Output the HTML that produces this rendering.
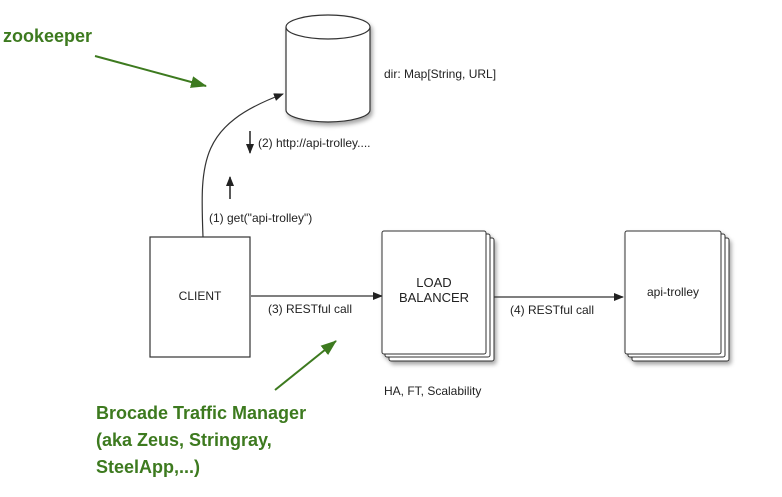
<!DOCTYPE html>
<html><head><style>
body{margin:0;background:#fff;width:782px;height:492px;overflow:hidden}
svg text{font-family:"Liberation Sans",sans-serif}
</style></head><body>
<svg width="782" height="492" viewBox="0 0 782 492" xmlns="http://www.w3.org/2000/svg">
<defs>
<marker id="a" markerWidth="10" markerHeight="8" refX="9" refY="4" orient="auto" markerUnits="userSpaceOnUse"><path d="M0,0L10,4L0,8z" fill="#222"/></marker>
<marker id="g" markerWidth="16" markerHeight="12" refX="15" refY="6" orient="auto" markerUnits="userSpaceOnUse"><path d="M0,0L16,6L0,12z" fill="#3d7a1f"/></marker>
<filter id="s" x="-10%" y="-10%" width="130%" height="130%"><feDropShadow dx="2" dy="3" stdDeviation="2" flood-opacity="0.35"/></filter>
</defs>
<g filter="url(#s)">
<path d="M286,27 L286,110 A42,12 0 0 0 370,110 L370,27" fill="#fff" stroke="#333" stroke-width="1.2"/>
<ellipse cx="328" cy="27" rx="42" ry="12" fill="#fff" stroke="#333" stroke-width="1.2"/>
</g>
<text x="384" y="78" font-size="12" fill="#222">dir: Map[String, URL]</text>
<path d="M203,237 C200,160 200,125 283,94" fill="none" stroke="#333" stroke-width="1.2" marker-end="url(#a)"/>
<line x1="250" y1="131" x2="250" y2="153" stroke="#222" stroke-width="1.5" marker-end="url(#a)"/>
<text x="258" y="147" font-size="12" fill="#222">(2) http://api-trolley....</text>
<line x1="230" y1="199" x2="230" y2="177" stroke="#222" stroke-width="1.5" marker-end="url(#a)"/>
<text x="209" y="222" font-size="12" fill="#222">(1) get("api-trolley")</text>
<rect x="150" y="237" width="100" height="120" fill="#fff" stroke="#333" stroke-width="1.2"/>
<text x="200" y="300" font-size="12" text-anchor="middle" fill="#222">CLIENT</text>
<line x1="251" y1="296" x2="382" y2="296" stroke="#333" stroke-width="1.2" marker-end="url(#a)"/>
<text x="268" y="313" font-size="12" fill="#222">(3) RESTful call</text>
<g filter="url(#s)">
<rect x="389" y="238" width="105" height="123" rx="2" fill="#fff" stroke="#333"/>
<rect x="385" y="234" width="105" height="123" rx="2" fill="#fff" stroke="#333"/>
<rect x="382" y="231" width="104" height="123" rx="2" fill="#fff" stroke="#333"/>
</g>
<text x="434" y="287" font-size="13" text-anchor="middle" fill="#222">LOAD</text>
<text x="434" y="302" font-size="13" text-anchor="middle" fill="#222">BALANCER</text>
<text x="384" y="395" font-size="12" fill="#222">HA, FT, Scalability</text>
<line x1="494" y1="297" x2="623" y2="297" stroke="#333" stroke-width="1.2" marker-end="url(#a)"/>
<text x="510" y="314" font-size="12" fill="#222">(4) RESTful call</text>
<g filter="url(#s)">
<rect x="632" y="238" width="97" height="123" rx="2" fill="#fff" stroke="#333"/>
<rect x="628" y="234" width="97" height="123" rx="2" fill="#fff" stroke="#333"/>
<rect x="625" y="231" width="96" height="123" rx="2" fill="#fff" stroke="#333"/>
</g>
<text x="673" y="296" font-size="12" text-anchor="middle" fill="#222">api-trolley</text>
<text x="3" y="42" font-size="18" font-weight="bold" fill="#3d7a1f">zookeeper</text>
<line x1="95" y1="56" x2="206" y2="86" stroke="#3d7a1f" stroke-width="2" marker-end="url(#g)"/>
<line x1="275" y1="390" x2="336" y2="341" stroke="#3d7a1f" stroke-width="2" marker-end="url(#g)"/>
<text font-size="18" font-weight="bold" fill="#3d7a1f"><tspan x="96" y="419">Brocade Traffic Manager</tspan><tspan x="96" y="446">(aka Zeus, Stringray,</tspan><tspan x="96" y="473">SteelApp,...)</tspan></text>
</svg>
</body></html>
